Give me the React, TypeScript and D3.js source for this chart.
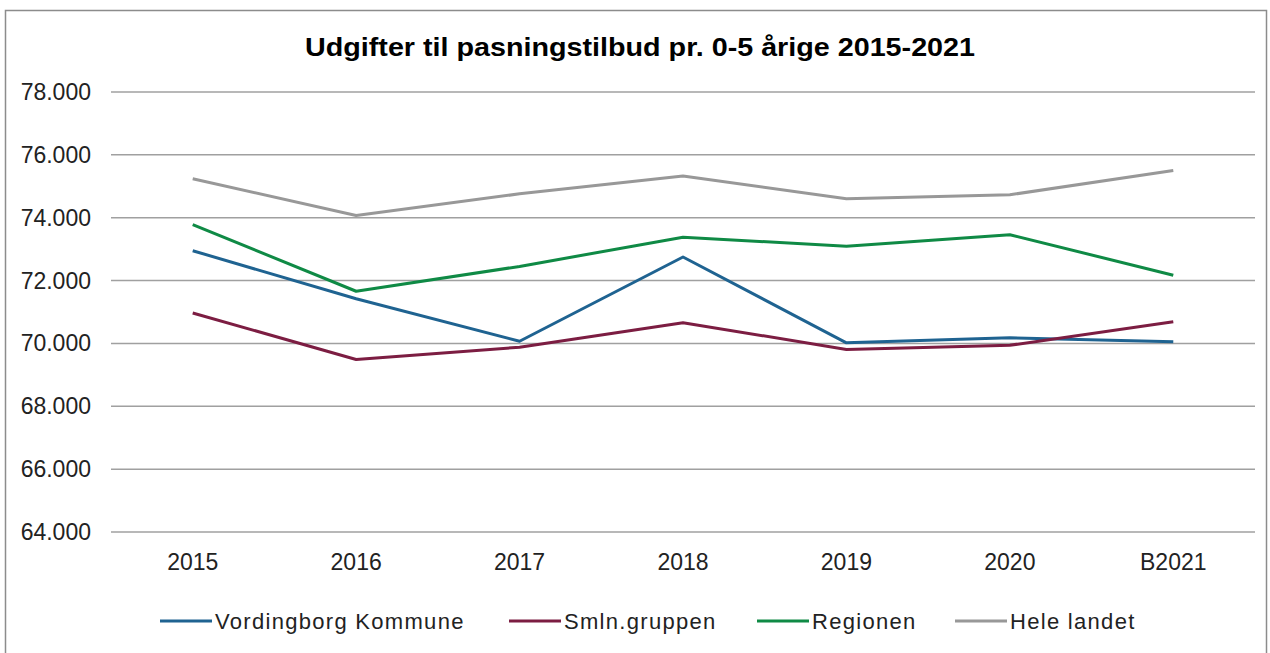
import React, { useEffect, useRef } from 'react';
import * as d3 from 'd3';

const years = ['2015', '2016', '2017', '2018', '2019', '2020', 'B2021'];
const vordingborg = [72950, 71420, 70070, 72750, 70020, 70180, 70050];
const smlnGruppen = [70970, 69490, 69880, 70660, 69810, 69940, 70690];
const regionen = [73780, 71660, 72450, 73380, 73090, 73460, 72170];
const heleLandet = [75240, 74070, 74760, 75330, 74600, 74730, 75500];
const yTicks = [64000, 66000, 68000, 70000, 72000, 74000, 76000, 78000];

const series = [
  { name: 'Vordingborg Kommune', values: vordingborg, color: '#1f6391' },
  { name: 'Smln.gruppen', values: smlnGruppen, color: '#7c1d42' },
  { name: 'Regionen', values: regionen, color: '#0f8a45' },
  { name: 'Hele landet', values: heleLandet, color: '#989898' },
];

export default function App() {
  const svgRef = useRef<SVGSVGElement>(null);

  useEffect(() => {
    if (!svgRef.current) return;
    const width = 1270, height = 653;
    const svg = d3.select(svgRef.current);
    svg.selectAll('*').remove();
    svg.attr('width', width).attr('height', height);

    const left = 111, right = 1255, top = 92, bottom = 532;
    const font = '"Liberation Sans", Arial, sans-serif';

    // chart frame
    svg.append('rect')
      .attr('x', 5.5).attr('y', 10.5)
      .attr('width', 1261).attr('height', 660)
      .attr('fill', '#fff')
      .attr('stroke', '#8c8c8c')
      .attr('stroke-width', 1.5);

    const x = d3.scaleBand().domain(years).range([left, right]);
    const y = d3.scaleLinear().domain([64000, 78000]).range([bottom, top]);

    svg.append('text')
      .attr('x', 640).attr('y', 55.5)
      .attr('text-anchor', 'middle')
      .style('font-family', font)
      .style('font-weight', 'bold')
      .style('font-size', '25px')
      .attr('textLength', 670)
      .attr('lengthAdjust', 'spacingAndGlyphs')
      .text('Udgifter til pasningstilbud pr. 0-5 årige 2015-2021');

    // gridlines
    svg.append('g').selectAll('line')
      .data(yTicks)
      .enter().append('line')
      .attr('x1', left).attr('x2', right)
      .attr('y1', d => y(d)).attr('y2', d => y(d))
      .attr('stroke', '#a0a0a0')
      .attr('stroke-width', 1.5);

    const fmt = (v: number) => d3.format(',')(v).replace(',', '.');

    svg.append('g').selectAll('text')
      .data(yTicks)
      .enter().append('text')
      .attr('x', 91)
      .attr('y', d => y(d))
      .attr('dy', '0.35em')
      .attr('text-anchor', 'end')
      .style('font-family', font)
      .style('font-size', '23px')
      .attr('fill', '#222')
      .text(d => fmt(d));

    svg.append('g').selectAll('text')
      .data(years)
      .enter().append('text')
      .attr('x', d => (x(d) as number) + x.bandwidth() / 2)
      .attr('y', 570)
      .attr('text-anchor', 'middle')
      .style('font-family', font)
      .style('font-size', '23px')
      .attr('fill', '#222')
      .text(d => d);

    const line = d3.line<number>()
      .x((d, i) => (x(years[i]) as number) + x.bandwidth() / 2)
      .y(d => y(d));

    svg.append('g').selectAll('path')
      .data(series)
      .enter().append('path')
      .attr('d', d => line(d.values))
      .attr('fill', 'none')
      .attr('stroke', d => d.color)
      .attr('stroke-width', 3)
      .attr('stroke-linejoin', 'round');

    // legend
    const legendX = [160, 509, 757, 955];
    const lg = svg.append('g').selectAll('g')
      .data(series)
      .enter().append('g')
      .attr('transform', (d, i) => `translate(${legendX[i]}, 621)`);
    lg.append('line')
      .attr('x1', 0).attr('x2', 52)
      .attr('stroke', d => d.color)
      .attr('stroke-width', 3);
    lg.append('text')
      .attr('x', 55)
      .attr('dy', '0.35em')
      .style('font-family', font)
      .style('font-size', '22px')
      .style('letter-spacing', '1.3px')
      .attr('fill', '#222')
      .text(d => d.name);
  }, []);

  return <svg ref={svgRef} style={{ position: 'absolute', left: 0, top: 0, display: 'block' }}></svg>;
}
